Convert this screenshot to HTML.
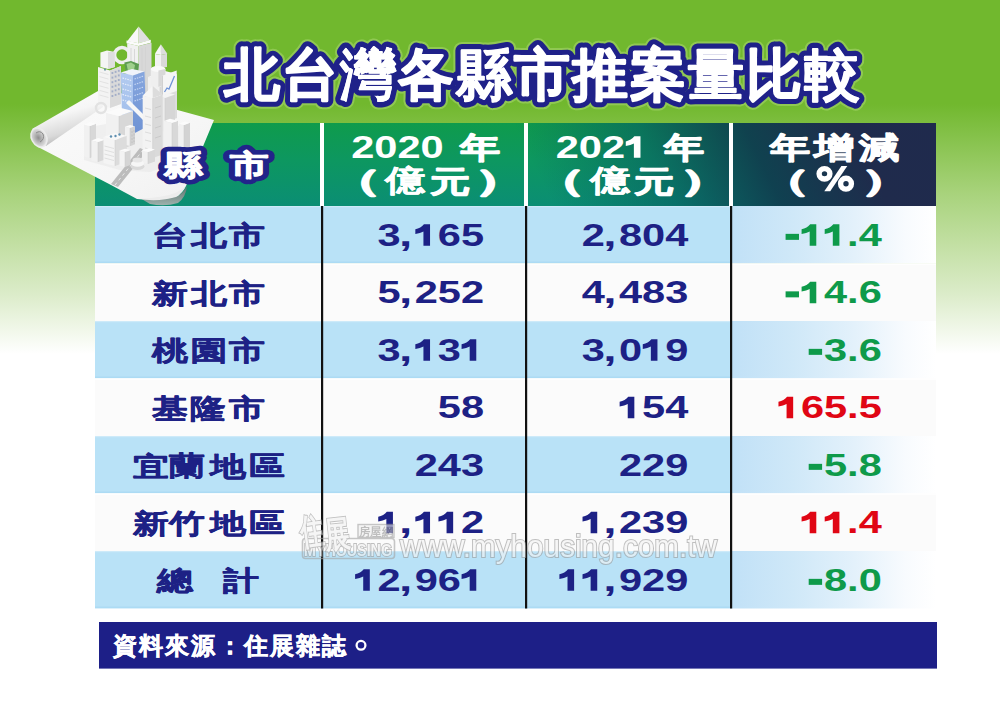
<!DOCTYPE html>
<html><head><meta charset="utf-8"><style>
*{margin:0;padding:0;box-sizing:border-box}
html,body{width:1000px;height:706px;overflow:hidden}
body{position:relative;font-family:"Liberation Sans",sans-serif;font-weight:bold;
background:linear-gradient(to bottom,#71b82e 0px,#71b82e 104px,#a9d37d 195px,#dcecca 295px,#fff 354px)}
.abs{position:absolute}
svg text{font-family:"Liberation Sans",sans-serif;font-weight:bold}
</style></head><body>
<div class="abs" style="left:95px;top:123px;width:841px;height:83px;background:linear-gradient(64deg,rgba(8,100,100,0) 52%,rgba(8,92,98,0.6) 66%,rgba(16,58,78,0.92) 78%,#1f2b4c 90%,#1f2a4d 100%),linear-gradient(to bottom,#0f9b4c 0%,#0d9760 45%,#0b8e74 100%)"></div>
<div class="abs" style="left:320px;top:123px;width:4px;height:83px;background:#fff"></div>
<div class="abs" style="left:524px;top:123px;width:4px;height:83px;background:#fff"></div>
<div class="abs" style="left:729px;top:123px;width:4px;height:83px;background:#fff"></div>
<svg class="abs" style="left:0;top:0" width="1000" height="706"><defs><linearGradient id="c4g" x1="0" y1="0" x2="1" y2="0"><stop offset="0" stop-color="#c1e1f7"/><stop offset="0.3" stop-color="#cfe8f8"/><stop offset="0.6" stop-color="#e3f1fb"/><stop offset="0.85" stop-color="#f8fbfe"/><stop offset="1" stop-color="#fff"/></linearGradient></defs><rect x="95" y="206" width="637" height="57.5" fill="#b9e2f7"/><rect x="732" y="206" width="204" height="57.5" fill="url(#c4g)"/><rect x="95" y="206" width="637" height="1.2" fill="#d2ecf9" opacity="0.8"/><rect x="95" y="261.5" width="637" height="1.5" fill="#a9daf2" opacity="0.8"/><rect x="95" y="263.5" width="841" height="57.5" fill="#fbfbfb"/><rect x="95" y="263.5" width="841" height="1.2" fill="#fff"/><rect x="95" y="321" width="637" height="57.5" fill="#b9e2f7"/><rect x="732" y="321" width="204" height="57.5" fill="url(#c4g)"/><rect x="95" y="321" width="637" height="1.2" fill="#d2ecf9" opacity="0.8"/><rect x="95" y="376.5" width="637" height="1.5" fill="#a9daf2" opacity="0.8"/><rect x="95" y="378.5" width="841" height="57.5" fill="#fbfbfb"/><rect x="95" y="378.5" width="841" height="1.2" fill="#fff"/><rect x="95" y="436" width="637" height="57.5" fill="#b9e2f7"/><rect x="732" y="436" width="204" height="57.5" fill="url(#c4g)"/><rect x="95" y="436" width="637" height="1.2" fill="#d2ecf9" opacity="0.8"/><rect x="95" y="491.5" width="637" height="1.5" fill="#a9daf2" opacity="0.8"/><rect x="95" y="493.5" width="841" height="57.5" fill="#fbfbfb"/><rect x="95" y="493.5" width="841" height="1.2" fill="#fff"/><rect x="95" y="551" width="637" height="57.5" fill="#b9e2f7"/><rect x="732" y="551" width="204" height="57.5" fill="url(#c4g)"/><rect x="95" y="551" width="637" height="1.2" fill="#d2ecf9" opacity="0.8"/><rect x="95" y="606.5" width="637" height="1.5" fill="#a9daf2" opacity="0.8"/><rect x="321" y="206" width="2.2" height="402.5" fill="#111"/><rect x="525" y="206" width="2.2" height="402.5" fill="#111"/><rect x="730" y="206" width="2.2" height="402.5" fill="#111"/></svg>
<svg class="abs" style="left:0;top:0" width="1000" height="706"><rect x="99" y="622" width="838" height="46.6" fill="#1d1f87"/></svg>
<svg class="abs" style="left:0;top:0" width="1000" height="706"><defs>
<linearGradient id="paperG" x1="0" y1="0" x2="1" y2="1"><stop offset="0" stop-color="#fbfbfb"/><stop offset="0.6" stop-color="#f6f6f6"/><stop offset="1" stop-color="#f0f0f0"/></linearGradient><linearGradient id="curlG" x1="0" y1="0" x2="0" y2="1"><stop offset="0" stop-color="#6a6a6a"/><stop offset="1" stop-color="#b8b8b8"/></linearGradient>
<linearGradient id="rollG" x1="0" y1="0" x2="0.35" y2="1"><stop offset="0" stop-color="#ffffff"/><stop offset="0.5" stop-color="#f6f6f6"/><stop offset="0.82" stop-color="#d9d9d9"/><stop offset="1" stop-color="#b5b5b5"/></linearGradient>
<linearGradient id="shadG" x1="0" y1="0" x2="0" y2="1"><stop offset="0" stop-color="#444" stop-opacity="0.8"/><stop offset="1" stop-color="#444" stop-opacity="0"/></linearGradient>
<radialGradient id="rollEnd" cx="0.45" cy="0.5" r="0.6"><stop offset="0" stop-color="#8f8f8f"/><stop offset="0.6" stop-color="#cdcdcd"/><stop offset="1" stop-color="#f4f4f4"/></radialGradient>
<linearGradient id="blueL" x1="0" y1="0" x2="0" y2="1"><stop offset="0" stop-color="#b3cbf0"/><stop offset="1" stop-color="#9dbbea"/></linearGradient>
<linearGradient id="blueR" x1="0" y1="0" x2="0" y2="1"><stop offset="0" stop-color="#86a6de"/><stop offset="1" stop-color="#6f93d4"/></linearGradient>
</defs>
<polygon points="42.00,148.00 100.00,110.00 103.00,114.00 46.00,151.00" fill="#2f6a12" opacity="0.18"/>
<path d="M140,198 Q162,201 178,196 Q184,192 187,186 Q186,197 178,203 Q165,207 150,204 Z" fill="url(#curlG)" opacity="0.85"/>
<polygon points="38.00,147.00 96.00,106.00 122.00,93.00 172.00,108.50 214.00,120.00 199.00,156.00 186.00,186.00 178.00,196.00 165.00,199.00 137.00,199.00 111.00,185.00" fill="url(#paperG)"/>
<path d="M137,199 Q160,202 176,197 Q183,193 186,186 L181,190 Q172,196 150,198 Z" fill="#ececec"/>
<polygon points="32.00,129.00 98.00,91.00 103.00,107.00 46.00,146.00" fill="url(#rollG)"/>
<ellipse cx="39" cy="137.5" rx="7.5" ry="10" transform="rotate(-28 39 137.5)" fill="url(#rollEnd)" stroke="#ececec" stroke-width="1.5"/>
<path d="M36,133 q4,-3 7,1 q2,5 -3,8" fill="none" stroke="#8a8a8a" stroke-width="1"/>
<polygon points="84.00,160.00 120.00,170.00 150.00,172.00 190.00,158.00 190.00,128.00 140.00,118.00 84.00,128.00" fill="#e6e6e6" opacity="0.5"/>
<polygon points="111.00,184.00 118.00,187.00 147.00,151.00 140.00,148.00" fill="#bcbcbc"/>
<path d="M115,185 L143,150" stroke="#f2f2f2" stroke-width="0.8" stroke-dasharray="3 3"/>
<circle cx="122" cy="55" r="7.5" fill="none" stroke="#efefef" stroke-width="3.6"/>
<polygon points="127.20,41.30 138.60,26.40 138.60,43.30" fill="#f8f8f8"/>
<polygon points="138.60,26.40 150.00,40.30 138.60,43.30" fill="#dfdfdf"/>
<polygon points="126.50,40.50 138.60,43.30 150.80,39.80 150.80,42.80 138.60,46.00 126.50,43.20" fill="#fbfbfb"/>
<polygon points="127.20,43.20 138.60,46.00 138.60,100.00 127.20,97.00" fill="#f1f1f1"/>
<polygon points="138.60,46.00 151.50,42.80 151.50,97.00 138.60,100.00" fill="#d8d8d8"/>
<path d="M131,48 V92 M134.5,49 V94 M142,48 V94 M145.5,47 V93" stroke="#d2d2d2" stroke-width="0.8"/>
<polygon points="160.00,124.00 148.00,121.00 148.00,77.00 160.00,80.00" fill="#f0f0f0"/><polygon points="160.00,124.00 177.00,117.88 177.00,73.88 160.00,80.00" fill="#dcdcdc"/><polygon points="160.00,80.00 148.00,77.00 165.00,70.88 177.00,73.88" fill="#f6f6f6"/><path d="M160.00,80.00 V124.00" stroke="#c9c9c9" stroke-width="0.5"/>
<polygon points="154.90,53.70 160.90,44.30 161.00,55.00" fill="#f7f7f7"/>
<polygon points="160.90,44.30 167.30,53.70 161.00,55.00" fill="#dddddd"/>
<polygon points="155.00,54.00 161.00,55.00 161.00,68.00 155.00,67.00" fill="#f2f2f2"/>
<polygon points="161.00,55.00 167.00,53.70 167.00,67.00 161.00,68.00" fill="#d9d9d9"/>
<path d="M150.8,69 A7.3,3 0 0 1 165.4,69 V84 A7.3,3 0 0 1 150.8,84 Z" fill="#efefef"/>
<ellipse cx="158.1" cy="69" rx="7.3" ry="3" fill="#f9f9f9"/>
<polygon points="158.40,70.50 165.40,69.00 165.40,84.00 158.40,87.00" fill="#d8d8d8"/>
<polygon points="161.40,76.00 176.70,70.50 176.70,91.00 161.40,96.00" fill="#f5f5f5"/>
<polygon points="161.40,76.00 163.00,75.50 163.00,95.50 161.40,96.00" fill="#d0d0d0"/>
<path d="M164.5,92 L167,88 L169,89 L172,82 L174.5,76" fill="none" stroke="#6e93d6" stroke-width="1.3"/>
<polygon points="100.40,52.50 107.00,50.50 114.80,52.00 114.80,67.00 108.00,69.00 100.40,67.00" fill="#f5f5f5"/>
<polygon points="108.00,52.00 114.80,52.00 114.80,67.00 108.00,69.00" fill="#dedede"/>
<polygon points="98.00,67.00 110.00,70.50 121.00,66.00 121.00,104.00 110.00,108.00 98.00,104.00" fill="#f3f3f3"/>
<polygon points="110.00,70.50 121.00,66.00 121.00,104.00 110.00,108.00" fill="#dadada"/>
<rect x="111.5" y="72.0" width="1.8" height="2" fill="#a3aec8"/>
<rect x="114.7" y="70.9" width="1.8" height="2" fill="#a3aec8"/>
<rect x="117.9" y="69.8" width="1.8" height="2" fill="#a3aec8"/>
<rect x="111.5" y="76.6" width="1.8" height="2" fill="#a3aec8"/>
<rect x="114.7" y="75.5" width="1.8" height="2" fill="#a3aec8"/>
<rect x="117.9" y="74.4" width="1.8" height="2" fill="#a3aec8"/>
<rect x="111.5" y="81.2" width="1.8" height="2" fill="#a3aec8"/>
<rect x="114.7" y="80.1" width="1.8" height="2" fill="#a3aec8"/>
<rect x="117.9" y="79.0" width="1.8" height="2" fill="#a3aec8"/>
<rect x="111.5" y="85.8" width="1.8" height="2" fill="#a3aec8"/>
<rect x="114.7" y="84.7" width="1.8" height="2" fill="#a3aec8"/>
<rect x="117.9" y="83.6" width="1.8" height="2" fill="#a3aec8"/>
<rect x="111.5" y="90.4" width="1.8" height="2" fill="#a3aec8"/>
<rect x="114.7" y="89.3" width="1.8" height="2" fill="#a3aec8"/>
<rect x="117.9" y="88.2" width="1.8" height="2" fill="#a3aec8"/>
<rect x="111.5" y="95.0" width="1.8" height="2" fill="#a3aec8"/>
<rect x="114.7" y="93.9" width="1.8" height="2" fill="#a3aec8"/>
<rect x="117.9" y="92.8" width="1.8" height="2" fill="#a3aec8"/>
<path d="M99.5,72.0 L108.5,74.5" stroke="#e0e0e0" stroke-width="0.9"/>
<path d="M99.5,76.6 L108.5,79.1" stroke="#e0e0e0" stroke-width="0.9"/>
<path d="M99.5,81.2 L108.5,83.7" stroke="#e0e0e0" stroke-width="0.9"/>
<path d="M99.5,85.8 L108.5,88.3" stroke="#e0e0e0" stroke-width="0.9"/>
<path d="M99.5,90.4 L108.5,92.9" stroke="#e0e0e0" stroke-width="0.9"/>
<path d="M99.5,95.0 L108.5,97.5" stroke="#e0e0e0" stroke-width="0.9"/>
<rect x="104" y="68.5" width="2" height="2" fill="#6f98a8"/>
<polygon points="124.30,62.50 131.00,61.00 139.00,64.00 138.00,73.00 126.00,74.00" fill="#5d9c52"/>
<polygon points="126.50,64.00 131.00,62.50 135.00,65.00 134.00,70.00 128.00,71.00" fill="#9fd08b"/>
<polygon points="120.70,72.50 133.00,75.50 144.50,71.50 132.00,69.00" fill="#f0f3fa"/>
<polygon points="120.70,72.50 133.00,75.50 133.00,134.00 122.50,130.00" fill="url(#blueL)"/>
<polygon points="133.00,75.50 144.50,71.50 146.30,127.00 133.00,134.00" fill="url(#blueR)"/>
<path d="M122.5,78.0 L131.5,80.5" stroke="#eaf0fb" stroke-width="1.1" stroke-dasharray="1.5 1"/>
<path d="M134.5,79.0 L143.5,76.0" stroke="#c9d8f3" stroke-width="1.1" stroke-dasharray="1.5 1"/>
<path d="M122.5,83.5 L131.5,86.0" stroke="#eaf0fb" stroke-width="1.1" stroke-dasharray="1.5 1"/>
<path d="M134.5,84.5 L143.5,81.5" stroke="#c9d8f3" stroke-width="1.1" stroke-dasharray="1.5 1"/>
<path d="M122.5,89.0 L131.5,91.5" stroke="#eaf0fb" stroke-width="1.1" stroke-dasharray="1.5 1"/>
<path d="M134.5,90.0 L143.5,87.0" stroke="#c9d8f3" stroke-width="1.1" stroke-dasharray="1.5 1"/>
<path d="M122.5,94.5 L131.5,97.0" stroke="#eaf0fb" stroke-width="1.1" stroke-dasharray="1.5 1"/>
<path d="M134.5,95.5 L143.5,92.5" stroke="#c9d8f3" stroke-width="1.1" stroke-dasharray="1.5 1"/>
<path d="M122.5,100.0 L131.5,102.5" stroke="#eaf0fb" stroke-width="1.1" stroke-dasharray="1.5 1"/>
<path d="M134.5,101.0 L143.5,98.0" stroke="#c9d8f3" stroke-width="1.1" stroke-dasharray="1.5 1"/>
<polygon points="126.00,103.00 129.00,100.00 147.00,118.00 144.00,121.00" fill="#f7f7f7"/>
<polygon points="119.00,150.00 106.00,146.75 106.00,112.75 119.00,116.00" fill="#f1f1f1"/><polygon points="119.00,150.00 133.00,144.96 133.00,110.96 119.00,116.00" fill="#d8d8d8"/><polygon points="119.00,116.00 106.00,112.75 120.00,107.71 133.00,110.96" fill="#fbfbfb"/><path d="M119.00,116.00 V150.00" stroke="#c9c9c9" stroke-width="0.5"/>
<circle cx="101" cy="108" r="5" fill="none" stroke="#e2e2e2" stroke-width="2.4"/>
<polygon points="90.00,158.00 84.00,156.50 84.00,124.50 90.00,126.00" fill="#f1f1f1"/><polygon points="90.00,158.00 96.00,155.84 96.00,123.84 90.00,126.00" fill="#d8d8d8"/><polygon points="90.00,126.00 84.00,124.50 90.00,122.34 96.00,123.84" fill="#fbfbfb"/><path d="M90.00,126.00 V158.00" stroke="#c9c9c9" stroke-width="0.5"/>
<polygon points="130.00,146.00 125.00,144.75 125.00,126.75 130.00,128.00" fill="#f1f1f1"/><polygon points="130.00,146.00 135.00,144.20 135.00,126.20 130.00,128.00" fill="#d2d2d2"/><polygon points="130.00,128.00 125.00,126.75 130.00,124.95 135.00,126.20" fill="#fbfbfb"/><path d="M130.00,128.00 V146.00" stroke="#c9c9c9" stroke-width="0.5"/>
<path d="M132,131 V143 M134,130 V142" stroke="#bdbdbd" stroke-width="0.8" stroke-dasharray="2 1.5"/>
<polygon points="165.00,132.00 159.00,130.50 159.00,96.50 165.00,98.00" fill="#ececec"/><polygon points="165.00,132.00 175.00,128.40 175.00,94.40 165.00,98.00" fill="#d6d6d6"/><polygon points="165.00,98.00 159.00,96.50 169.00,92.90 175.00,94.40" fill="#f4f4f4"/><path d="M165.00,98.00 V132.00" stroke="#c9c9c9" stroke-width="0.5"/>
<polygon points="152.70,158.00 142.70,155.50 142.70,95.50 152.70,98.00" fill="#f3f3f3"/><polygon points="152.70,158.00 162.70,154.40 162.70,94.40 152.70,98.00" fill="#dadada"/><polygon points="152.70,98.00 142.70,95.50 152.70,91.90 162.70,94.40" fill="#fafafa"/><path d="M152.70,98.00 V158.00" stroke="#c9c9c9" stroke-width="0.5"/>
<polygon points="142.70,95.50 152.70,86.00 152.70,98.00" fill="#f6f6f6"/>
<polygon points="152.70,86.00 162.70,94.40 152.70,98.00" fill="#dcdcdc"/>
<path d="M145,108 L151,109.5 M145,116 L151,117.5 M145,124 L151,125.5 M145,132 L151,133.5 M145,140 L151,141.5 M145,148 L151,149.5" stroke="#d9d9d9" stroke-width="0.9"/>
<path d="M155,108 L161,106 M155,118 L161,116 M155,128 L161,126 M155,138 L161,136" stroke="#c7c7c7" stroke-width="0.9"/>
<polygon points="172.00,153.00 164.00,151.00 164.00,121.00 172.00,123.00" fill="#f1f1f1"/><polygon points="172.00,153.00 178.00,150.84 178.00,120.84 172.00,123.00" fill="#d8d8d8"/><polygon points="172.00,123.00 164.00,121.00 170.00,118.84 178.00,120.84" fill="#fbfbfb"/><path d="M172.00,123.00 V153.00" stroke="#c9c9c9" stroke-width="0.5"/>
<polygon points="184.00,151.00 179.00,149.75 179.00,123.75 184.00,125.00" fill="#f1f1f1"/><polygon points="184.00,151.00 190.00,148.84 190.00,122.84 184.00,125.00" fill="#d3d3d3"/><polygon points="184.00,125.00 179.00,123.75 185.00,121.59 190.00,122.84" fill="#fbfbfb"/><path d="M184.00,125.00 V151.00" stroke="#c9c9c9" stroke-width="0.5"/>
<polygon points="98.00,162.00 91.50,160.38 91.50,140.38 98.00,142.00" fill="#f1f1f1"/><polygon points="98.00,162.00 104.50,159.66 104.50,139.66 98.00,142.00" fill="#d8d8d8"/><polygon points="98.00,142.00 91.50,140.38 98.00,138.03 104.50,139.66" fill="#fbfbfb"/><path d="M98.00,142.00 V162.00" stroke="#c9c9c9" stroke-width="0.5"/>
<polygon points="115.00,166.00 103.40,163.10 103.40,137.10 115.00,140.00" fill="#f4f4f4"/><polygon points="115.00,166.00 126.70,161.79 126.70,135.79 115.00,140.00" fill="#dcdcdc"/><polygon points="115.00,140.00 103.40,137.10 115.10,132.89 126.70,135.79" fill="#f8f8f8"/><path d="M115.00,140.00 V166.00" stroke="#c9c9c9" stroke-width="0.5"/>
<circle cx="111" cy="136.5" r="1.2" fill="#5f8fb0"/><circle cx="115.5" cy="136" r="1.2" fill="#5f8fb0"/><circle cx="119.5" cy="134.5" r="1.2" fill="#5f8fb0"/>
<path d="M104.5,146 L114,148.5 M104.5,150 L114,152.5 M104.5,154 L114,156.5 M104.5,158 L114,160.5" stroke="#dcdcdc" stroke-width="0.9"/>
<polygon points="125.00,167.00 119.50,165.62 119.50,150.62 125.00,152.00" fill="#f3f3f3"/><polygon points="125.00,167.00 130.50,165.02 130.50,150.02 125.00,152.00" fill="#d5d5d5"/><polygon points="125.00,152.00 119.50,150.62 125.00,148.65 130.50,150.02" fill="#fafafa"/><path d="M125.00,152.00 V167.00" stroke="#c9c9c9" stroke-width="0.5"/>
<polygon points="148.00,164.00 142.00,162.50 142.00,150.50 148.00,152.00" fill="#f1f1f1"/><polygon points="148.00,164.00 155.00,161.48 155.00,149.48 148.00,152.00" fill="#d8d8d8"/><polygon points="148.00,152.00 142.00,150.50 149.00,147.98 155.00,149.48" fill="#fbfbfb"/><path d="M148.00,152.00 V164.00" stroke="#c9c9c9" stroke-width="0.5"/>
<ellipse cx="137.5" cy="166.5" rx="7" ry="3.5" fill="#d9d9d9"/>
<ellipse cx="137.5" cy="163.5" rx="6.5" ry="3.2" fill="#f6f6f6"/>
<ellipse cx="137.5" cy="160" rx="5" ry="2.5" fill="#e6e6e6"/></svg>
<svg class="abs" style="left:0;top:0" width="1000" height="706"><g font-size="56">
<text x="223.9 281.9 340.0 398.0 456.1 514.1 572.2 630.2 688.3 746.3 804.4" y="94" fill="#a5d46c" stroke="#a5d46c" stroke-width="15.5" stroke-linejoin="round" opacity="0.6">北台灣各縣市推案量比較</text>
<text x="223.9 281.9 340.0 398.0 456.1 514.1 572.2 630.2 688.3 746.3 804.4" y="94" fill="#1f2189" stroke="#1f2189" stroke-width="11.5" stroke-linejoin="round">北台灣各縣市推案量比較</text>
<text x="223.9 281.9 340.0 398.0 456.1 514.1 572.2 630.2 688.3 746.3 804.4" y="94" fill="#fff" stroke="#fff" stroke-width="1.5" stroke-linejoin="round">北台<tspan stroke-width="0.6">灣</tspan>各<tspan stroke-width="0.9">縣</tspan>市推案<tspan stroke-width="1">量</tspan>比<tspan stroke-width="1">較</tspan></text>
</g>
<text transform="translate(163.71,175.01) scale(1.33,1)" font-size="29" fill="#22248a" stroke="#22248a" stroke-width="10.5" stroke-linejoin="round">縣</text>
<text transform="translate(230.14,175.06) scale(1.33,1)" font-size="29" fill="#22248a" stroke="#22248a" stroke-width="10.5" stroke-linejoin="round">市</text>
<text transform="translate(163.71,175.01) scale(1.33,1)" font-size="29" fill="#fff" stroke="#fff" stroke-width="1" stroke-linejoin="round">縣</text>
<text transform="translate(230.14,175.06) scale(1.33,1)" font-size="29" fill="#fff" stroke="#fff" stroke-width="1" stroke-linejoin="round">市</text>
<g><text transform="translate(420.58,157.7) scale(1.35,1)" font-size="30.8" fill="#fff">0</text><text transform="translate(397.46,157.7) scale(1.35,1)" font-size="30.8" fill="#fff">2</text><text transform="translate(374.34,157.7) scale(1.35,1)" font-size="30.8" fill="#fff">0</text><text transform="translate(351.23,157.7) scale(1.35,1)" font-size="30.8" fill="#fff">2</text></g>
<text transform="translate(459.63,158.35) scale(1.34,1)" font-size="30.5" fill="#fff" stroke="#fff" stroke-width="1.1" stroke-linejoin="round">年</text>
<text transform="translate(327.69,191.09) scale(1.8,1)" font-size="30.5" fill="#fff" stroke="#fff" stroke-width="1.4" stroke-linejoin="round">（</text>
<text transform="translate(385.25,191.36) scale(1.34,1)" font-size="30.5" fill="#fff" stroke="#fff" stroke-width="0.5" stroke-linejoin="round">億</text>
<text transform="translate(429.76,191.75) scale(1.34,1)" font-size="30.5" fill="#fff" stroke="#fff" stroke-width="1.1" stroke-linejoin="round">元</text>
<text transform="translate(474.41,191.09) scale(1.8,1)" font-size="30.5" fill="#fff" stroke="#fff" stroke-width="1.4" stroke-linejoin="round">）</text>
<g><path transform="translate(625.78,136.3)" d="M8.6,0 L14.7,0 L14.7,21.4 L8.1,21.4 L8.1,7.3 C6,8.5 3.2,9.3 0,9.8 L0,5.1 C3.6,4.3 6.6,2.6 8.6,0 Z" fill="#fff"/><text transform="translate(601.96,157.7) scale(1.35,1)" font-size="30.8" fill="#fff">2</text><text transform="translate(578.84,157.7) scale(1.35,1)" font-size="30.8" fill="#fff">0</text><text transform="translate(555.73,157.7) scale(1.35,1)" font-size="30.8" fill="#fff">2</text></g>
<text transform="translate(664.13,158.35) scale(1.34,1)" font-size="30.5" fill="#fff" stroke="#fff" stroke-width="1.1" stroke-linejoin="round">年</text>
<text transform="translate(532.19,191.09) scale(1.8,1)" font-size="30.5" fill="#fff" stroke="#fff" stroke-width="1.4" stroke-linejoin="round">（</text>
<text transform="translate(589.75,191.36) scale(1.34,1)" font-size="30.5" fill="#fff" stroke="#fff" stroke-width="0.5" stroke-linejoin="round">億</text>
<text transform="translate(634.27,191.75) scale(1.34,1)" font-size="30.5" fill="#fff" stroke="#fff" stroke-width="1.1" stroke-linejoin="round">元</text>
<text transform="translate(678.91,191.09) scale(1.8,1)" font-size="30.5" fill="#fff" stroke="#fff" stroke-width="1.4" stroke-linejoin="round">）</text>
<text transform="translate(770.03,158.35) scale(1.34,1)" font-size="30.5" fill="#fff" stroke="#fff" stroke-width="1.1" stroke-linejoin="round">年</text>
<text transform="translate(814.16,158.05) scale(1.34,1)" font-size="30.5" fill="#fff" stroke="#fff" stroke-width="1.1" stroke-linejoin="round">增</text>
<text transform="translate(858.96,158.27) scale(1.34,1)" font-size="30.5" fill="#fff" stroke="#fff" stroke-width="1.1" stroke-linejoin="round">減</text>
<text transform="translate(757.49,190.89) scale(1.8,1)" font-size="30.5" fill="#fff" stroke="#fff" stroke-width="1.2" stroke-linejoin="round">（</text>
<text transform="translate(859.71,190.89) scale(1.8,1)" font-size="30.5" fill="#fff" stroke="#fff" stroke-width="1.2" stroke-linejoin="round">）</text>
<g fill="none" stroke="#fff" stroke-width="5.4"><ellipse cx="824.5" cy="173.8" rx="5.4" ry="5.2"/><ellipse cx="846" cy="183.7" rx="5.4" ry="5.4"/></g><polygon points="841.4,166 847.3,166 830.2,191.3 824.3,191.3" fill="#fff"/>
<text transform="translate(151.58,245.42) scale(1.33,1)" font-size="27" fill="#1d2185" stroke="#1d2185" stroke-width="0.6" stroke-linejoin="round">台</text>
<text transform="translate(190.61,245.23) scale(1.33,1)" font-size="27" fill="#1d2185" stroke="#1d2185" stroke-width="0.6" stroke-linejoin="round">北</text>
<text transform="translate(228.97,245.35) scale(1.33,1)" font-size="27" fill="#1d2185" stroke="#1d2185" stroke-width="0.6" stroke-linejoin="round">市</text>
<text transform="translate(152.31,302.66) scale(1.33,1)" font-size="27" fill="#1d2185" stroke="#1d2185" stroke-width="0.6" stroke-linejoin="round">新</text>
<text transform="translate(190.61,302.73) scale(1.33,1)" font-size="27" fill="#1d2185" stroke="#1d2185" stroke-width="0.6" stroke-linejoin="round">北</text>
<text transform="translate(228.97,302.85) scale(1.33,1)" font-size="27" fill="#1d2185" stroke="#1d2185" stroke-width="0.6" stroke-linejoin="round">市</text>
<text transform="translate(151.99,360.26) scale(1.33,1)" font-size="27" fill="#1d2185" stroke="#1d2185" stroke-width="0.6" stroke-linejoin="round">桃</text>
<text transform="translate(190.66,359.78) scale(1.33,1)" font-size="27" fill="#1d2185" stroke="#1d2185" stroke-width="0.6" stroke-linejoin="round">園</text>
<text transform="translate(228.97,360.35) scale(1.33,1)" font-size="27" fill="#1d2185" stroke="#1d2185" stroke-width="0.6" stroke-linejoin="round">市</text>
<text transform="translate(152.01,418.19) scale(1.33,1)" font-size="27" fill="#1d2185" stroke="#1d2185" stroke-width="0.6" stroke-linejoin="round">基</text>
<text transform="translate(189.75,417.8) scale(1.33,1)" font-size="27" fill="#1d2185" stroke="#1d2185" stroke-width="0.6" stroke-linejoin="round">隆</text>
<text transform="translate(228.97,417.85) scale(1.33,1)" font-size="27" fill="#1d2185" stroke="#1d2185" stroke-width="0.6" stroke-linejoin="round">市</text>
<text transform="translate(132.92,475.69) scale(1.33,1)" font-size="27" fill="#1d2185" stroke="#1d2185" stroke-width="0.6" stroke-linejoin="round">宜</text>
<text transform="translate(168.99,475.31) scale(1.33,1)" font-size="27" fill="#1d2185" stroke="#1d2185" stroke-width="0.6" stroke-linejoin="round">蘭</text>
<text transform="translate(209.56,475.58) scale(1.33,1)" font-size="27" fill="#1d2185" stroke="#1d2185" stroke-width="0.6" stroke-linejoin="round">地</text>
<text transform="translate(249.24,474.84) scale(1.33,1)" font-size="27" fill="#1d2185" stroke="#1d2185" stroke-width="0.6" stroke-linejoin="round">區</text>
<text transform="translate(133.31,532.66) scale(1.33,1)" font-size="27" fill="#1d2185" stroke="#1d2185" stroke-width="0.6" stroke-linejoin="round">新</text>
<text transform="translate(169.3,532.81) scale(1.33,1)" font-size="27" fill="#1d2185" stroke="#1d2185" stroke-width="0.6" stroke-linejoin="round">竹</text>
<text transform="translate(209.56,533.08) scale(1.33,1)" font-size="27" fill="#1d2185" stroke="#1d2185" stroke-width="0.6" stroke-linejoin="round">地</text>
<text transform="translate(249.24,532.34) scale(1.33,1)" font-size="27" fill="#1d2185" stroke="#1d2185" stroke-width="0.6" stroke-linejoin="round">區</text>
<text transform="translate(156.73,590.34) scale(1.33,1)" font-size="27" fill="#1d2185" stroke="#1d2185" stroke-width="0.6" stroke-linejoin="round">總</text>
<text transform="translate(223.38,590.24) scale(1.33,1)" font-size="27" fill="#1d2185" stroke="#1d2185" stroke-width="0.6" stroke-linejoin="round">計</text>
<g><text transform="translate(460.88,245.65) scale(1.35,1)" font-size="30.8" fill="#1d2185">5</text><text transform="translate(437.76,245.65) scale(1.35,1)" font-size="30.8" fill="#1d2185">6</text><path transform="translate(415.34,224.25)" d="M8.6,0 L14.7,0 L14.7,21.4 L8.1,21.4 L8.1,7.3 C6,8.5 3.2,9.3 0,9.8 L0,5.1 C3.6,4.3 6.6,2.6 8.6,0 Z" fill="#1d2185"/><text transform="translate(399.04,245.65) scale(1.55,1)" font-size="30.8" fill="#1d2185">,</text><text transform="translate(377.53,245.65) scale(1.35,1)" font-size="30.8" fill="#1d2185">3</text></g>
<g><text transform="translate(665.18,245.65) scale(1.35,1)" font-size="30.8" fill="#1d2185">4</text><text transform="translate(642.06,245.65) scale(1.35,1)" font-size="30.8" fill="#1d2185">0</text><text transform="translate(618.94,245.65) scale(1.35,1)" font-size="30.8" fill="#1d2185">8</text><text transform="translate(603.34,245.65) scale(1.55,1)" font-size="30.8" fill="#1d2185">,</text><text transform="translate(581.83,245.65) scale(1.35,1)" font-size="30.8" fill="#1d2185">2</text></g>
<g><text transform="translate(858.68,245.65) scale(1.35,1)" font-size="30.8" fill="#0e9a4a">4</text><text transform="translate(847.12,245.65) scale(1.35,1)" font-size="30.8" fill="#0e9a4a">.</text><path transform="translate(824.7,224.25)" d="M8.6,0 L14.7,0 L14.7,21.4 L8.1,21.4 L8.1,7.3 C6,8.5 3.2,9.3 0,9.8 L0,5.1 C3.6,4.3 6.6,2.6 8.6,0 Z" fill="#0e9a4a"/><path transform="translate(801.59,224.25)" d="M8.6,0 L14.7,0 L14.7,21.4 L8.1,21.4 L8.1,7.3 C6,8.5 3.2,9.3 0,9.8 L0,5.1 C3.6,4.3 6.6,2.6 8.6,0 Z" fill="#0e9a4a"/><rect x="785.59" y="233.85" width="13.4" height="6" fill="#0e9a4a"/></g>
<g><text transform="translate(460.88,303.15) scale(1.35,1)" font-size="30.8" fill="#1d2185">2</text><text transform="translate(437.76,303.15) scale(1.35,1)" font-size="30.8" fill="#1d2185">5</text><text transform="translate(414.64,303.15) scale(1.35,1)" font-size="30.8" fill="#1d2185">2</text><text transform="translate(399.04,303.15) scale(1.55,1)" font-size="30.8" fill="#1d2185">,</text><text transform="translate(377.53,303.15) scale(1.35,1)" font-size="30.8" fill="#1d2185">5</text></g>
<g><text transform="translate(665.18,303.15) scale(1.35,1)" font-size="30.8" fill="#1d2185">3</text><text transform="translate(642.06,303.15) scale(1.35,1)" font-size="30.8" fill="#1d2185">8</text><text transform="translate(618.94,303.15) scale(1.35,1)" font-size="30.8" fill="#1d2185">4</text><text transform="translate(603.34,303.15) scale(1.55,1)" font-size="30.8" fill="#1d2185">,</text><text transform="translate(581.83,303.15) scale(1.35,1)" font-size="30.8" fill="#1d2185">4</text></g>
<g><text transform="translate(858.68,303.15) scale(1.35,1)" font-size="30.8" fill="#0e9a4a">6</text><text transform="translate(847.12,303.15) scale(1.35,1)" font-size="30.8" fill="#0e9a4a">.</text><text transform="translate(824,303.15) scale(1.35,1)" font-size="30.8" fill="#0e9a4a">4</text><path transform="translate(801.59,281.75)" d="M8.6,0 L14.7,0 L14.7,21.4 L8.1,21.4 L8.1,7.3 C6,8.5 3.2,9.3 0,9.8 L0,5.1 C3.6,4.3 6.6,2.6 8.6,0 Z" fill="#0e9a4a"/><rect x="785.59" y="291.35" width="13.4" height="6" fill="#0e9a4a"/></g>
<g><path transform="translate(461.58,339.25)" d="M8.6,0 L14.7,0 L14.7,21.4 L8.1,21.4 L8.1,7.3 C6,8.5 3.2,9.3 0,9.8 L0,5.1 C3.6,4.3 6.6,2.6 8.6,0 Z" fill="#1d2185"/><text transform="translate(437.76,360.65) scale(1.35,1)" font-size="30.8" fill="#1d2185">3</text><path transform="translate(415.34,339.25)" d="M8.6,0 L14.7,0 L14.7,21.4 L8.1,21.4 L8.1,7.3 C6,8.5 3.2,9.3 0,9.8 L0,5.1 C3.6,4.3 6.6,2.6 8.6,0 Z" fill="#1d2185"/><text transform="translate(399.04,360.65) scale(1.55,1)" font-size="30.8" fill="#1d2185">,</text><text transform="translate(377.53,360.65) scale(1.35,1)" font-size="30.8" fill="#1d2185">3</text></g>
<g><text transform="translate(665.18,360.65) scale(1.35,1)" font-size="30.8" fill="#1d2185">9</text><path transform="translate(642.76,339.25)" d="M8.6,0 L14.7,0 L14.7,21.4 L8.1,21.4 L8.1,7.3 C6,8.5 3.2,9.3 0,9.8 L0,5.1 C3.6,4.3 6.6,2.6 8.6,0 Z" fill="#1d2185"/><text transform="translate(618.94,360.65) scale(1.35,1)" font-size="30.8" fill="#1d2185">0</text><text transform="translate(603.34,360.65) scale(1.55,1)" font-size="30.8" fill="#1d2185">,</text><text transform="translate(581.83,360.65) scale(1.35,1)" font-size="30.8" fill="#1d2185">3</text></g>
<g><text transform="translate(858.68,360.65) scale(1.35,1)" font-size="30.8" fill="#0e9a4a">6</text><text transform="translate(847.12,360.65) scale(1.35,1)" font-size="30.8" fill="#0e9a4a">.</text><text transform="translate(824,360.65) scale(1.35,1)" font-size="30.8" fill="#0e9a4a">3</text><rect x="808.7" y="348.85" width="13.4" height="6" fill="#0e9a4a"/></g>
<g><text transform="translate(460.88,418.15) scale(1.35,1)" font-size="30.8" fill="#1d2185">8</text><text transform="translate(437.76,418.15) scale(1.35,1)" font-size="30.8" fill="#1d2185">5</text></g>
<g><text transform="translate(665.18,418.15) scale(1.35,1)" font-size="30.8" fill="#1d2185">4</text><text transform="translate(642.06,418.15) scale(1.35,1)" font-size="30.8" fill="#1d2185">5</text><path transform="translate(619.64,396.75)" d="M8.6,0 L14.7,0 L14.7,21.4 L8.1,21.4 L8.1,7.3 C6,8.5 3.2,9.3 0,9.8 L0,5.1 C3.6,4.3 6.6,2.6 8.6,0 Z" fill="#1d2185"/></g>
<g><text transform="translate(858.68,418.15) scale(1.35,1)" font-size="30.8" fill="#e00614">5</text><text transform="translate(847.12,418.15) scale(1.35,1)" font-size="30.8" fill="#e00614">.</text><text transform="translate(824,418.15) scale(1.35,1)" font-size="30.8" fill="#e00614">5</text><text transform="translate(800.89,418.15) scale(1.35,1)" font-size="30.8" fill="#e00614">6</text><path transform="translate(778.47,396.75)" d="M8.6,0 L14.7,0 L14.7,21.4 L8.1,21.4 L8.1,7.3 C6,8.5 3.2,9.3 0,9.8 L0,5.1 C3.6,4.3 6.6,2.6 8.6,0 Z" fill="#e00614"/></g>
<g><text transform="translate(460.88,475.65) scale(1.35,1)" font-size="30.8" fill="#1d2185">3</text><text transform="translate(437.76,475.65) scale(1.35,1)" font-size="30.8" fill="#1d2185">4</text><text transform="translate(414.64,475.65) scale(1.35,1)" font-size="30.8" fill="#1d2185">2</text></g>
<g><text transform="translate(665.18,475.65) scale(1.35,1)" font-size="30.8" fill="#1d2185">9</text><text transform="translate(642.06,475.65) scale(1.35,1)" font-size="30.8" fill="#1d2185">2</text><text transform="translate(618.94,475.65) scale(1.35,1)" font-size="30.8" fill="#1d2185">2</text></g>
<g><text transform="translate(858.68,475.65) scale(1.35,1)" font-size="30.8" fill="#0e9a4a">8</text><text transform="translate(847.12,475.65) scale(1.35,1)" font-size="30.8" fill="#0e9a4a">.</text><text transform="translate(824,475.65) scale(1.35,1)" font-size="30.8" fill="#0e9a4a">5</text><rect x="808.7" y="463.85" width="13.4" height="6" fill="#0e9a4a"/></g>
<g><text transform="translate(460.88,533.15) scale(1.35,1)" font-size="30.8" fill="#1d2185">2</text><path transform="translate(438.46,511.75)" d="M8.6,0 L14.7,0 L14.7,21.4 L8.1,21.4 L8.1,7.3 C6,8.5 3.2,9.3 0,9.8 L0,5.1 C3.6,4.3 6.6,2.6 8.6,0 Z" fill="#1d2185"/><path transform="translate(415.34,511.75)" d="M8.6,0 L14.7,0 L14.7,21.4 L8.1,21.4 L8.1,7.3 C6,8.5 3.2,9.3 0,9.8 L0,5.1 C3.6,4.3 6.6,2.6 8.6,0 Z" fill="#1d2185"/><text transform="translate(399.04,533.15) scale(1.55,1)" font-size="30.8" fill="#1d2185">,</text><path transform="translate(378.23,511.75)" d="M8.6,0 L14.7,0 L14.7,21.4 L8.1,21.4 L8.1,7.3 C6,8.5 3.2,9.3 0,9.8 L0,5.1 C3.6,4.3 6.6,2.6 8.6,0 Z" fill="#1d2185"/></g>
<g><text transform="translate(665.18,533.15) scale(1.35,1)" font-size="30.8" fill="#1d2185">9</text><text transform="translate(642.06,533.15) scale(1.35,1)" font-size="30.8" fill="#1d2185">3</text><text transform="translate(618.94,533.15) scale(1.35,1)" font-size="30.8" fill="#1d2185">2</text><text transform="translate(603.34,533.15) scale(1.55,1)" font-size="30.8" fill="#1d2185">,</text><path transform="translate(582.53,511.75)" d="M8.6,0 L14.7,0 L14.7,21.4 L8.1,21.4 L8.1,7.3 C6,8.5 3.2,9.3 0,9.8 L0,5.1 C3.6,4.3 6.6,2.6 8.6,0 Z" fill="#1d2185"/></g>
<g><text transform="translate(858.68,533.15) scale(1.35,1)" font-size="30.8" fill="#e00614">4</text><text transform="translate(847.12,533.15) scale(1.35,1)" font-size="30.8" fill="#e00614">.</text><path transform="translate(824.7,511.75)" d="M8.6,0 L14.7,0 L14.7,21.4 L8.1,21.4 L8.1,7.3 C6,8.5 3.2,9.3 0,9.8 L0,5.1 C3.6,4.3 6.6,2.6 8.6,0 Z" fill="#e00614"/><path transform="translate(801.59,511.75)" d="M8.6,0 L14.7,0 L14.7,21.4 L8.1,21.4 L8.1,7.3 C6,8.5 3.2,9.3 0,9.8 L0,5.1 C3.6,4.3 6.6,2.6 8.6,0 Z" fill="#e00614"/></g>
<g><path transform="translate(461.58,569.25)" d="M8.6,0 L14.7,0 L14.7,21.4 L8.1,21.4 L8.1,7.3 C6,8.5 3.2,9.3 0,9.8 L0,5.1 C3.6,4.3 6.6,2.6 8.6,0 Z" fill="#1d2185"/><text transform="translate(437.76,590.65) scale(1.35,1)" font-size="30.8" fill="#1d2185">6</text><text transform="translate(414.64,590.65) scale(1.35,1)" font-size="30.8" fill="#1d2185">9</text><text transform="translate(399.04,590.65) scale(1.55,1)" font-size="30.8" fill="#1d2185">,</text><text transform="translate(377.53,590.65) scale(1.35,1)" font-size="30.8" fill="#1d2185">2</text><path transform="translate(355.11,569.25)" d="M8.6,0 L14.7,0 L14.7,21.4 L8.1,21.4 L8.1,7.3 C6,8.5 3.2,9.3 0,9.8 L0,5.1 C3.6,4.3 6.6,2.6 8.6,0 Z" fill="#1d2185"/></g>
<g><text transform="translate(665.18,590.65) scale(1.35,1)" font-size="30.8" fill="#1d2185">9</text><text transform="translate(642.06,590.65) scale(1.35,1)" font-size="30.8" fill="#1d2185">2</text><text transform="translate(618.94,590.65) scale(1.35,1)" font-size="30.8" fill="#1d2185">9</text><text transform="translate(603.34,590.65) scale(1.55,1)" font-size="30.8" fill="#1d2185">,</text><path transform="translate(582.53,569.25)" d="M8.6,0 L14.7,0 L14.7,21.4 L8.1,21.4 L8.1,7.3 C6,8.5 3.2,9.3 0,9.8 L0,5.1 C3.6,4.3 6.6,2.6 8.6,0 Z" fill="#1d2185"/><path transform="translate(559.41,569.25)" d="M8.6,0 L14.7,0 L14.7,21.4 L8.1,21.4 L8.1,7.3 C6,8.5 3.2,9.3 0,9.8 L0,5.1 C3.6,4.3 6.6,2.6 8.6,0 Z" fill="#1d2185"/></g>
<g><text transform="translate(858.68,590.65) scale(1.35,1)" font-size="30.8" fill="#0e9a4a">0</text><text transform="translate(847.12,590.65) scale(1.35,1)" font-size="30.8" fill="#0e9a4a">.</text><text transform="translate(824,590.65) scale(1.35,1)" font-size="30.8" fill="#0e9a4a">8</text><rect x="808.7" y="578.85" width="13.4" height="6" fill="#0e9a4a"/></g>
<defs><filter id="wmb" x="-5%" y="-20%" width="110%" height="140%"><feGaussianBlur stdDeviation="0.45"/></filter></defs>
<g opacity="0.62" filter="url(#wmb)">
<text x="400" y="557" font-size="31" textLength="317" lengthAdjust="spacingAndGlyphs" fill="#f4f4f4" stroke="#9c9c9c" stroke-width="2.1" paint-order="stroke" style="font-weight:normal">www.myhousing.com.tw</text>
<rect x="302.5" y="538.5" width="92" height="20" rx="3" fill="none" stroke="#a5a5a5" stroke-width="1.6"/>
<text x="304" y="555.5" font-size="16" textLength="88" lengthAdjust="spacingAndGlyphs" fill="#f2f2f2" stroke="#9c9c9c" stroke-width="1.8" paint-order="stroke">MYHOUSING</text>
<rect x="358" y="524.5" width="36" height="13" fill="#f0f0f0" stroke="#a5a5a5" stroke-width="1.4"/>
<text x="359" y="536" font-size="11.5" textLength="34" lengthAdjust="spacingAndGlyphs" fill="#9a9a9a">房屋網</text>
<text transform="translate(302,545) rotate(-8) scale(0.78,1.2)" font-size="30" fill="#f2f2f2" stroke="#9c9c9c" stroke-width="1.6" paint-order="stroke" font-family="Liberation Serif, serif">住</text>
<text transform="translate(326,548) rotate(-6) scale(0.85,1.2)" font-size="30" fill="#f2f2f2" stroke="#9c9c9c" stroke-width="1.6" paint-order="stroke" font-family="Liberation Serif, serif">展</text>
</g>
<circle cx="361" cy="645.3" r="4.4" fill="none" stroke="#fff" stroke-width="2.3"/>
<text x="113.1" y="654.3" font-size="24" fill="#fff" stroke="#fff" stroke-width="0.5">資</text>
<text x="139.2" y="654.3" font-size="24" fill="#fff" stroke="#fff" stroke-width="0.5">料</text>
<text x="165.3" y="654.3" font-size="24" fill="#fff" stroke="#fff" stroke-width="0.5">來</text>
<text x="191.4" y="654.3" font-size="24" fill="#fff" stroke="#fff" stroke-width="0.5">源</text>
<text x="217.5" y="654.3" font-size="24" fill="#fff" stroke="#fff" stroke-width="0.5">：</text>
<text x="243.6" y="654.3" font-size="24" fill="#fff" stroke="#fff" stroke-width="0.5">住</text>
<text x="269.7" y="654.3" font-size="24" fill="#fff" stroke="#fff" stroke-width="0.5">展</text>
<text x="295.8" y="654.3" font-size="24" fill="#fff" stroke="#fff" stroke-width="0.5">雜</text>
<text x="321.9" y="654.3" font-size="24" fill="#fff" stroke="#fff" stroke-width="0.5">誌</text></svg>
</body></html>
